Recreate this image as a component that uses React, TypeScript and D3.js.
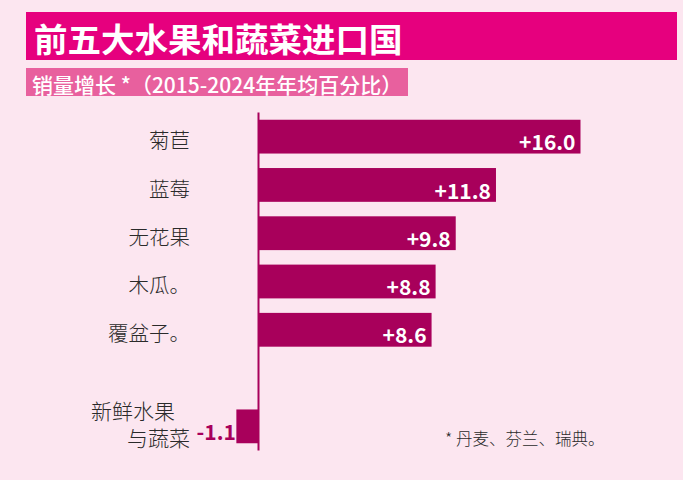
import React, { useEffect } from "react";
import * as d3 from "d3";

const categories = ["菊苣", "蓝莓", "无花果", "木瓜。", "覆盆子。", "", "新鲜水果\n与蔬菜"];
const values: (number | null)[] = [16.0, 11.8, 9.8, 8.8, 8.6, null, -1.1];
const valueLabels = ["+16.0", "+11.8", "+9.8", "+8.8", "+8.6", "", "-1.1"];
const title = "前五大水果和蔬菜进口国";
const subtitle = "销量增长 *（2015-2024年年均百分比）";
const footnote = "* 丹麦、芬兰、瑞典。";

const W = 683;
const H = 480;
const BG = "#fce6f0";
const BAR = "#a8005b";
const FONT = "'Noto Sans CJK SC', 'Noto Sans', sans-serif";

export default function App() {
  useEffect(() => {
    document.body.style.margin = "0";
    document.body.style.background = BG;
    document.documentElement.style.background = BG;
  }, []);
  const keys = categories.map((_, i) => String(i));
  const y = d3.scaleBand<string>().domain(keys).range([112.5, 450.5]).paddingInner(0.3).paddingOuter(0.15);
  const x = d3.scaleLinear().domain([0, 16]).range([258.5, 580.5]);

  return (
    <svg width={W} height={H} style={{ display: "block", background: BG }}>
      <rect x={0} y={0} width={W} height={H} fill={BG} />
      <rect x={26} y={12} width={651} height={48} fill="#e6007e" />
      <text x={34} y={52} fill="#fff" fontFamily={FONT} fontWeight={700} fontSize={33.5}>{title}</text>
      <clipPath id="subclip"><rect x={26} y={68} width={382} height={28} /></clipPath>
      <rect x={26} y={68} width={382} height={28} fill="#e8609e" />
      <g clipPath="url(#subclip)">
        <text x={32} y={93} fill="#fff" fontFamily={FONT} fontWeight={500} fontSize={21}>{subtitle}</text>
      </g>
      {values.map((v, i) => {
        if (v === null) return null;
        const y0 = y(String(i))!;
        const bw = y.bandwidth();
        const x0 = x(Math.min(0, v));
        const x1 = x(Math.max(0, v));
        const lines = categories[i].split("\n");
        return (
          <g key={i}>
            <rect x={x0} y={y0} width={x1 - x0} height={bw} fill={BAR} />
            {v >= 0 ? (
              <text x={x1 - 5} y={y0 + 30.5} textAnchor="end" fill="#fff" fontFamily={FONT} fontWeight={700} fontSize={21}>{valueLabels[i]}</text>
            ) : (
              <text x={x0 - 0.5} y={y0 + 30.5} textAnchor="end" fill={BAR} fontFamily={FONT} fontWeight={700} fontSize={21}>{valueLabels[i]}</text>
            )}
            {lines.length === 1 ? (
              <text x={190} y={y0 + 28.5} textAnchor="end" fill="#2a2a2a" fontFamily={FONT} fontWeight={300} fontSize={20.5}>{lines[0]}</text>
            ) : (
              <g>
                <text x={175} y={y0 + 10} textAnchor="end" fill="#2a2a2a" fontFamily={FONT} fontWeight={300} fontSize={21}>{lines[0]}</text>
                <text x={190} y={y0 + 37} textAnchor="end" fill="#2a2a2a" fontFamily={FONT} fontWeight={300} fontSize={21}>{lines[1]}</text>
              </g>
            )}
          </g>
        );
      })}
      <line x1={x(0)} x2={x(0)} y1={y.range()[0]} y2={y.range()[1]} stroke={BAR} strokeWidth={2} />
      <text x={445} y={445} fill="#2a2a2a" fontFamily={FONT} fontWeight={300} fontSize={16.5}>{footnote}</text>
    </svg>
  );
}
